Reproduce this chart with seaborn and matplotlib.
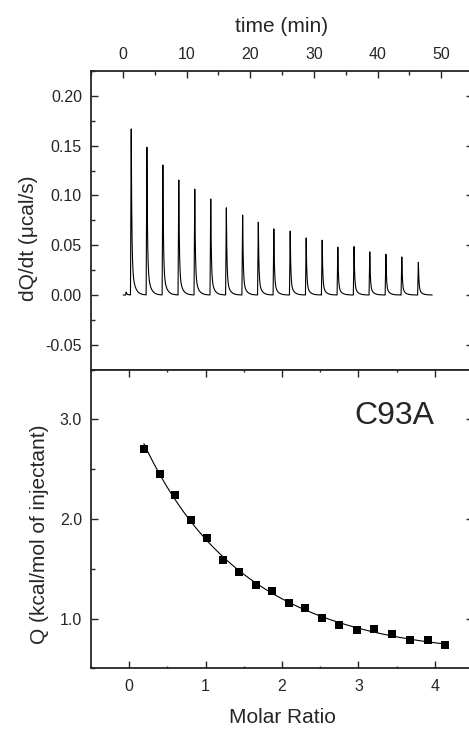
import numpy as np
import pandas as pd
import matplotlib
matplotlib.use("Agg")
import matplotlib.pyplot as plt
from matplotlib.ticker import MultipleLocator, FormatStrFormatter
import seaborn as sns

# Injection schedule of the titration (min) and peak heat rate of each injection (ucal/s)
inj_time = [0.42, 1.2, 3.66, 6.17, 8.67, 11.18, 13.69, 16.14, 18.7, 21.16, 23.6,
            26.17, 28.68, 31.19, 33.65, 36.2, 38.67, 41.2, 43.7, 46.3]
peak_height = [0.003, 0.1667, 0.1483, 0.1305, 0.1154, 0.1063, 0.0963, 0.0875, 0.0802,
               0.0731, 0.0664, 0.0641, 0.0573, 0.0550, 0.0480, 0.0486, 0.0433,
               0.0409, 0.0382, 0.0329]
run_start, run_end = 0.05, 48.6

# Integrated heats per injection
molar_ratio = [0.192, 0.400, 0.605, 0.809, 1.013, 1.231, 1.440, 1.657, 1.870, 2.092,
               2.305, 2.526, 2.752, 2.983, 3.209, 3.443, 3.674, 3.905, 4.140]
heat = [2.706, 2.455, 2.238, 1.994, 1.810, 1.585, 1.464, 1.341, 1.274, 1.157,
        1.107, 1.007, 0.940, 0.883, 0.893, 0.840, 0.780, 0.780, 0.732]

sns.set_style("ticks")
plt.rcParams["font.family"] = ["Liberation Sans", "DejaVu Sans"]
plt.rcParams["axes.unicode_minus"] = False

# Raw thermogram: each injection rises sharply and relaxes back to baseline
t = np.arange(run_start, run_end, 0.005)
power = np.zeros_like(t)
rise = 0.12
for t0, h in zip(inj_time, peak_height):
    up = (t >= t0) & (t < t0 + rise)
    power[up] += h * (t[up] - t0) / rise
    dn = t >= t0 + rise
    dt = t[dn] - t0 - rise
    power[dn] += h * (0.8 * np.exp(-dt / 0.09) + 0.2 * np.exp(-dt / 0.45))
raw = pd.DataFrame({"time": t, "power": power})

pts = pd.DataFrame({"ratio": molar_ratio, "Q": heat})
# Smooth least-squares fit through the integrated heats
coef = np.polyfit(pts["ratio"], np.log(pts["Q"]), 3)
xf = np.linspace(min(molar_ratio), max(molar_ratio), 200)
fit = pd.DataFrame({"ratio": xf, "Q": np.exp(np.polyval(coef, xf))})

W, H = 469, 729
fig = plt.figure(figsize=(W / 100, H / 100), dpi=100)
left, right = 91, 473
ax1 = fig.add_axes([left / W, 1 - 369.7 / H, (right - left) / W, 298.7 / H])
ax2 = fig.add_axes([left / W, 1 - 668.3 / H, (right - left) / W, 298.6 / H])

sns.lineplot(data=raw, x="time", y="power", ax=ax1, color="black", lw=0.8,
             estimator=None, sort=False)
sns.lineplot(data=fit, x="ratio", y="Q", ax=ax2, color="black", lw=0.8,
             estimator=None, sort=False)
sns.scatterplot(data=pts, x="ratio", y="Q", ax=ax2, marker="s", s=36,
                color="black", edgecolor="black", linewidth=0, zorder=3)

tick_fs, label_fs = 11.5, 15

# Upper panel: thermogram with time axis on top
ax1.set_xlim(-5, 55)
ax1.set_ylim(-0.075, 0.225)
ax1.xaxis.set_major_locator(MultipleLocator(10))
ax1.xaxis.set_minor_locator(MultipleLocator(5))
ax1.yaxis.set_major_locator(MultipleLocator(0.05))
ax1.yaxis.set_minor_locator(MultipleLocator(0.025))
ax1.yaxis.set_major_formatter(FormatStrFormatter("%.2f"))
ax1.set_yticks([-0.05, 0.0, 0.05, 0.10, 0.15, 0.20])
ax1.tick_params(which="both", direction="in", top=True, bottom=False,
                left=True, right=True, labeltop=True, labelbottom=False,
                labelsize=tick_fs, width=1.0)
ax1.tick_params(axis="x", which="major", length=5, pad=6.5)
ax1.tick_params(axis="y", which="major", length=5, pad=6.5)
ax1.tick_params(which="minor", length=3)
ax1.xaxis.set_label_position("top")
ax1.set_xlabel("time (min)", fontsize=label_fs, labelpad=11)
ax1.set_ylabel("dQ/dt (\u03bccal/s)", fontsize=label_fs)
ax1.yaxis.set_label_coords(-0.14, 0.44)

# Lower panel: integrated heats vs molar ratio
ax2.set_xlim(-0.5, 4.5)
ax2.set_ylim(0.5, 3.5)
ax2.xaxis.set_major_locator(MultipleLocator(1))
ax2.xaxis.set_minor_locator(MultipleLocator(0.5))
ax2.set_yticks([1.0, 2.0, 3.0])
ax2.yaxis.set_minor_locator(MultipleLocator(0.5))
ax2.yaxis.set_major_formatter(FormatStrFormatter("%.1f"))
ax2.tick_params(which="both", direction="in", top=False, bottom=True,
                left=True, right=True, labelsize=tick_fs, width=1.0)
ax2.tick_params(axis="x", which="major", length=5, pad=8)
ax2.tick_params(axis="y", which="major", length=5, pad=6.5)
ax2.tick_params(which="minor", length=3)
ax2.tick_params(axis="x", which="both", top=True, length=1.5)
ax2.tick_params(axis="x", which="major", bottom=True, length=5)
ax2.set_xlabel("Molar Ratio", fontsize=label_fs, labelpad=10)
ax2.set_ylabel("Q (kcal/mol of injectant)", fontsize=label_fs)
ax2.yaxis.set_label_coords(-0.11, 0.45)
ax2.text(3.465, 3.03, "C93A", fontsize=23, ha="center", va="center")

for ax in (ax1, ax2):
    for sp in ax.spines.values():
        sp.set_linewidth(1.3)
        sp.set_visible(True)

fig.savefig("out.png", dpi=100)
